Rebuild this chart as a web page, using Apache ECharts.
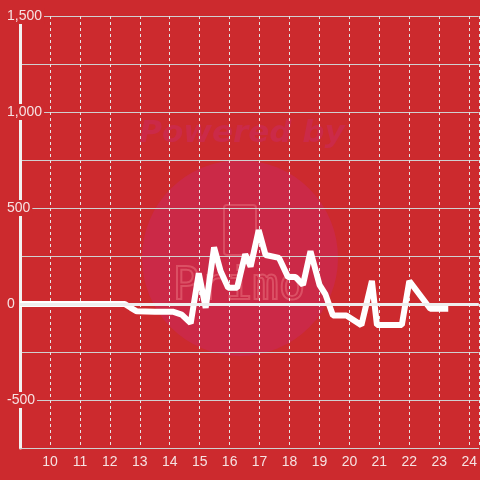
<!DOCTYPE html>
<html>
<head>
<meta charset="utf-8">
<script src="https://cdn.jsdelivr.net/npm/echarts@6/dist/echarts.min.js"></script>
<style>
html,body{margin:0;padding:0;background:#cc2a2e;}
#chart{width:480px;height:480px;}
</style>
</head>
<body>
<div id="chart"></div>
<script>
// Data
var hours = [9, 12.5, 12.7, 12.9, 13.5, 14.1, 14.4, 14.7, 14.97, 15.2, 15.48, 15.7, 15.95, 16.25, 16.52, 16.7, 16.97, 17.2, 17.65, 17.95, 18.2, 18.45, 18.7, 19.0, 19.2, 19.45, 19.9, 20.4, 20.75, 20.92, 21.75, 22.0, 22.7, 23.3];
var values = [0, 0, -20, -38, -40, -40, -55, -100, 160, -20, 295, 170, 85, 85, 260, 195, 385, 255, 240, 140, 140, 100, 275, 100, 50, -60, -60, -110, 120, -110, -110, 120, -25, -25];
var xTickLabels = [10, 11, 12, 13, 14, 15, 16, 17, 18, 19, 20, 21, 22, 23, 24];
var yTickLabels = [-500, 0, 500, 1000, 1500];

var seriesData = hours.map(function (h, i) { return [h, values[i]]; });

var chart = echarts.init(document.getElementById('chart'), null, {renderer: 'canvas'});
var labelColor = '#f6e2e2';
chart.setOption({
  backgroundColor: '#cc2a2e',
  animation: false,
  graphic: [
    {type: 'circle', z: -10, shape: {cx: 240, cy: 258, r: 98}, style: {fill: '#cb2947'}},
    {type: 'text', z: -10, style: {x: 242, y: 134, text: 'Powered by', fill: '#cb2a48', font: 'italic bold 31px "DejaVu Sans", sans-serif', textAlign: 'center', textVerticalAlign: 'middle'}},
    {type: 'rect', z: -9, shape: {x: 224, y: 205, width: 32, height: 50, r: 3}, style: {fill: 'none', stroke: 'rgba(235,120,130,0.45)', lineWidth: 2}},
    {type: 'text', z: -9, style: {x: 239, y: 288, text: 'Primo', fill: 'none', stroke: 'rgba(235,120,130,0.5)', lineWidth: 2, font: '44px "DejaVu Sans Mono", monospace', textAlign: 'center', textVerticalAlign: 'middle'}}
  ],
  grid: {left: 20, right: 0, top: 16, bottom: 32, containLabel: false},
  xAxis: {
    type: 'value',
    min: 9,
    max: 24.32,
    interval: 1,
    axisLine: {show: true, onZero: false, lineStyle: {color: '#d0d0d0', width: 1}},
    axisTick: {show: false},
    axisLabel: {
      color: labelColor,
      fontSize: 14,
      fontFamily: '"Liberation Sans", Arial, sans-serif',
      margin: 7,
      showMaxLabel: false,
      formatter: function (v) { return xTickLabels.indexOf(v) >= 0 ? String(v) : ''; }
    },
    splitLine: {show: true, lineStyle: {color: '#e6e6e6', width: 1, type: [3, 3]}}
  },
  yAxis: {
    type: 'value',
    min: -750,
    max: 1500,
    interval: 250,
    axisLine: {show: true, onZero: false, lineStyle: {color: '#f2f2f2', width: 3}},
    axisTick: {show: false},
    axisLabel: {
      align: 'left',
      margin: 15,
      fontSize: 14,
      fontFamily: '"Liberation Sans", Arial, sans-serif',
      color: labelColor,
      formatter: function (v) {
        return yTickLabels.indexOf(v) >= 0 ? '{a|' + v.toLocaleString('en-US') + '}' : '';
      },
      rich: {a: {color: labelColor, fontSize: 14, fontFamily: '"Liberation Sans", Arial, sans-serif', backgroundColor: '#cc2a2e', padding: [1, 2, 1, 2]}}
    },
    splitLine: {show: true, lineStyle: {color: '#d0d0d0', width: 1}}
  },
  series: [{
    type: 'line',
    data: seriesData,
    symbol: 'none',
    lineStyle: {color: '#ffffff', width: 6, join: 'bevel', cap: 'butt'},
    markLine: {
      silent: true,
      symbol: 'none',
      label: {show: false},
      lineStyle: {color: '#eeeeee', width: 3, type: 'solid'},
      data: [{yAxis: 0}]
    }
  }]
});
</script>
</body>
</html>
